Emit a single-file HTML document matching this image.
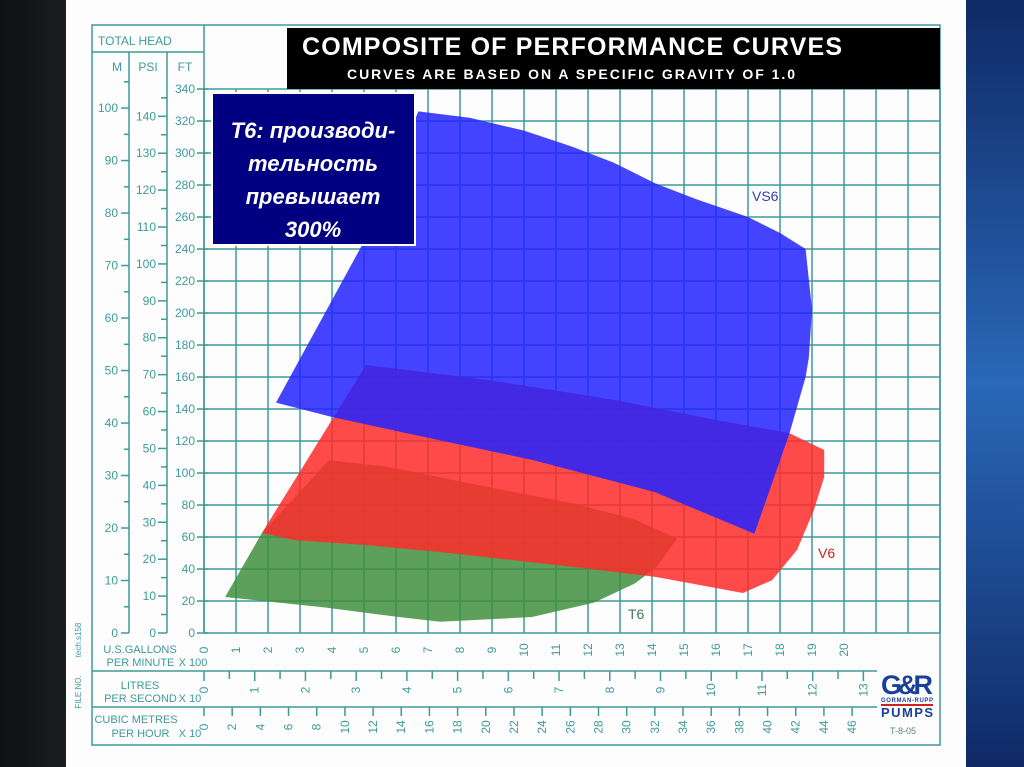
<!DOCTYPE html>
<html><head><meta charset="utf-8"><style>
html,body{margin:0;padding:0;width:1024px;height:767px;overflow:hidden;background:#fff}
svg{display:block}
text{font-family:"Liberation Sans",sans-serif}
</style></head><body>
<svg id="chart" width="1024" height="767" viewBox="0 0 1024 767">
<defs>
<linearGradient id="lbg" x1="0" y1="0" x2="1" y2="0"><stop offset="0" stop-color="#0e1111"/><stop offset="1" stop-color="#1a1e1e"/></linearGradient>
<linearGradient id="rbg" x1="0" y1="0" x2="0" y2="1"><stop offset="0" stop-color="#0f2a66"/><stop offset="0.5" stop-color="#2a68b8"/><stop offset="1" stop-color="#0f2a66"/></linearGradient>
</defs>
<rect x="0" y="0" width="66" height="767" fill="url(#lbg)"/>
<rect x="966" y="0" width="58" height="767" fill="url(#rbg)"/>
<rect x="66" y="0" width="900" height="767" fill="#fdfdfd"/>
<g id="grid"></g>
<g id="areas"></g>
<g id="axes"></g>
<g fill="none" stroke="#3f9a9a" stroke-width="1.5">
<rect x="92" y="25" width="848" height="720"/>
<line x1="92" y1="52" x2="204" y2="52"/>
<line x1="204" y1="25" x2="204" y2="633"/>
<line x1="92" y1="671" x2="204" y2="671"/>
<line x1="92" y1="707" x2="204" y2="707"/>
</g>
<g fill="#3f9a9a" font-size="12">
<text x="98" y="45">TOTAL HEAD</text>
<text x="117" y="71" text-anchor="middle">M</text>
<text x="148" y="71" text-anchor="middle">PSI</text>
<text x="185" y="71" text-anchor="middle">FT</text>
</g>
<g fill="#3f9a9a" font-size="11" text-anchor="middle">
<text x="140" y="653">U.S.GALLONS</text>
<text x="142" y="666">PER MINUTE <tspan x="193">X 100</tspan></text>
<text x="140" y="689">LITRES</text>
<text x="142" y="702">PER SECOND <tspan x="190">X 10</tspan></text>
<text x="136" y="723">CUBIC METRES</text>
<text x="142" y="737">PER HOUR <tspan x="190">X 10</tspan></text>
<text transform="translate(81,640) rotate(-90)" font-size="8">tech.s158</text>
<text transform="translate(81,692) rotate(-90)" font-size="8">FILE NO.</text>
</g>
<g>
<rect x="287" y="28" width="653" height="61" fill="#000"/>
<text x="572" y="55" fill="#fff" font-size="25" font-weight="bold" text-anchor="middle" textLength="540">COMPOSITE OF PERFORMANCE CURVES</text>
<text x="571" y="79" fill="#fff" font-size="14" font-weight="bold" text-anchor="middle" textLength="448">CURVES ARE BASED ON A SPECIFIC GRAVITY OF 1.0</text>
</g>
<g>
<text x="752" y="201" fill="#3b3bb0" font-size="14">VS6</text>
<text x="818" y="558" fill="#d02020" font-size="14">V6</text>
<text x="628" y="619" fill="#3a7a5a" font-size="14">T6</text>
</g>
<g>
<rect x="212" y="93" width="203" height="152" fill="#000080" stroke="#fff" stroke-width="2"/>
<g fill="#fff" font-size="22" font-weight="bold" font-style="italic" text-anchor="middle">
<text x="313" y="138">T6: производи-</text>
<text x="313" y="171">тельность</text>
<text x="313" y="204">превышает</text>
<text x="313" y="237">300%</text>
</g>
</g>
<g>
<text x="907" y="694" fill="#1a3f9a" font-size="27" font-weight="bold" text-anchor="middle" textLength="52">G&amp;R</text>
<text x="907" y="702" fill="#1a3f9a" font-size="6" font-weight="bold" text-anchor="middle" textLength="52">GORMAN-RUPP</text>
<rect x="881" y="704" width="52" height="2" fill="#d02020"/>
<text x="907" y="717" fill="#1a3f9a" font-size="13" font-weight="bold" text-anchor="middle" textLength="52">PUMPS</text>
<text x="903" y="734" fill="#5a8a6a" font-size="9" text-anchor="middle">T-8-05</text>
</g>
</svg>
<script>
// Data: flow in US GPM x100, head in feet
const vs6Gpm = [6.7,8.3,10,11.5,12.8,14.1,15.4,17,18,18.8,19,18.9,18.8,18.3,17.2,15.4,14.1,10.3,6.3,4,2.25,4.9];
const vs6Ft  = [326,322,314,304,294,281,271,260,250,240,202,172,160,125,62,77,88,108,125,135,144,241];
const v6Gpm = [5.06,8.94,12.84,16.06,18.28,19.38,19.38,19.06,18.53,17.75,16.84,14.13,11.53,7.66,5.06,2.84,1.81];
const v6Ft  = [167.5,158,145.6,133,125,114.4,97.5,76.9,51.9,33,25,35,41.3,50,55,58,62.5];
const t6Gpm = [3.9,5.72,8.94,11.53,13.47,14.78,14.13,13.47,12.19,10.25,7.38,6.09,3.75,0.66,1.81];
const t6Ft  = [108,104,91,81,71,59,41,31,19,10,7,10,16,22.5,62.5];
const ftTicks = [0,20,40,60,80,100,120,140,160,180,200,220,240,260,280,300,320,340];
const mTicks = [0,10,20,30,40,50,60,70,80,90,100];
const psiTicks = [0,10,20,30,40,50,60,70,80,90,100,110,120,130,140];
const gpmTicks = [0,1,2,3,4,5,6,7,8,9,10,11,12,13,14,15,16,17,18,19,20];
const lpsTicks = [0,1,2,3,4,5,6,7,8,9,10,11,12,13];
const m3hTicks = [0,2,4,6,8,10,12,14,16,18,20,22,24,26,28,30,32,34,36,38,40,42,44,46];

const X0=204, PXG=32, Y0=633, PXF=1.6;
const xG = g => X0 + g*PXG;
const yF = f => Y0 - f*PXF;
const xL = l => xG(l*10*15.8503/100);   // litres/s x10 -> gpm x100
const xM = m => xG(m*10*4.40287/100);   // m3/h x10 -> gpm x100
const yM = m => yF(m*3.28084);
const yP = p => yF(p*2.30666);
const NS='http://www.w3.org/2000/svg';
const TEAL='#3f9a9a';
function mk(tag, attrs, parent){const e=document.createElementNS(NS,tag);for(const k in attrs)e.setAttribute(k,attrs[k]);parent.appendChild(e);return e;}
const grid=document.getElementById('grid'), areas=document.getElementById('areas'), axes=document.getElementById('axes');

// grid
for(let i=0;i<=23;i++){const x=X0+i*PXG;
 const l=mk('line',{x1:x,y1:89,x2:x,y2:Y0,stroke:TEAL,'stroke-width':1.5},grid);
 
 }
for(let i=0;i<=17;i++){const y=Y0-i*32;
 const l=mk('line',{x1:X0,y1:y,x2:940,y2:y,stroke:TEAL,'stroke-width':1.5},grid);
 
 }

// areas
function poly(gs,fs,fill,name){
 const pts=gs.map((g,i)=>xG(g).toFixed(1)+','+yF(fs[i]).toFixed(1)).join(' ');
 const p=mk('polygon',{points:pts,fill:fill,'fill-opacity':0.85},areas);
 
 }
poly(t6Gpm,t6Ft,'#3f8f3f','t6-area');
poly(v6Gpm,v6Ft,'#ff2a2a','v6-area');
poly(vs6Gpm,vs6Ft,'#2323ff','vs6-area');

function txt(x,y,s,attrs){const t=mk('text',Object.assign({x:x,y:y,fill:TEAL,'font-size':12},attrs||{}),axes);t.textContent=s;return t;}
// FT axis
ftTicks.forEach(f=>{const y=yF(f);
 mk('line',{x1:197,y1:y,x2:208,y2:y,stroke:TEAL,'stroke-width':1.5},axes);
 const t=txt(195,y+4,String(f),{'text-anchor':'end'});
 
 });
// M axis
mk('line',{x1:129,y1:52,x2:129,y2:Y0,stroke:TEAL,'stroke-width':1.5},axes);
mTicks.forEach(m=>{const y=yM(m);
 mk('line',{x1:121,y1:y,x2:129,y2:y,stroke:TEAL,'stroke-width':1.5},axes);
 mk('line',{x1:124,y1:yM(m+5),x2:129,y2:yM(m+5),stroke:TEAL,'stroke-width':1.5},axes);
 const t=txt(118,y+4,String(m),{'text-anchor':'end'});
 
 });
// PSI axis
mk('line',{x1:167,y1:52,x2:167,y2:Y0,stroke:TEAL,'stroke-width':1.5},axes);
psiTicks.forEach(p=>{const y=yP(p);
 mk('line',{x1:158,y1:y,x2:167,y2:y,stroke:TEAL,'stroke-width':1.5},axes);
 mk('line',{x1:161,y1:yP(p+5),x2:167,y2:yP(p+5),stroke:TEAL,'stroke-width':1.5},axes);
 const t=txt(156,y+4,String(p),{'text-anchor':'end'});
 
 });
// GPM labels
gpmTicks.forEach(g=>{const x=xG(g);
 const t=txt(0,0,String(g),{transform:`translate(${x+4},${650}) rotate(-90)`,'text-anchor':'middle'});
 
 });
// litres axis
mk('line',{x1:204,y1:671,x2:877,y2:671,stroke:TEAL,'stroke-width':1.5},axes);
mk('line',{x1:204,y1:707,x2:877,y2:707,stroke:TEAL,'stroke-width':1.5},axes);
lpsTicks.forEach(l=>{const x=xL(l);
 mk('line',{x1:x,y1:671,x2:x,y2:681,stroke:TEAL,'stroke-width':1.5},axes);
 if(l<13){const xh=xL(l+0.5);mk('line',{x1:xh,y1:671,x2:xh,y2:679,stroke:TEAL,'stroke-width':1.5},axes);}
 const t=txt(0,0,String(l),{transform:`translate(${x+4},${690}) rotate(-90)`,'text-anchor':'middle'});
 
 });
m3hTicks.forEach(m=>{const x=xM(m);
 mk('line',{x1:x,y1:707,x2:x,y2:716,stroke:TEAL,'stroke-width':1.5},axes);
 const t=txt(0,0,String(m),{transform:`translate(${x+4},${727}) rotate(-90)`,'text-anchor':'middle'});
 
 });
</script>
</body></html>
